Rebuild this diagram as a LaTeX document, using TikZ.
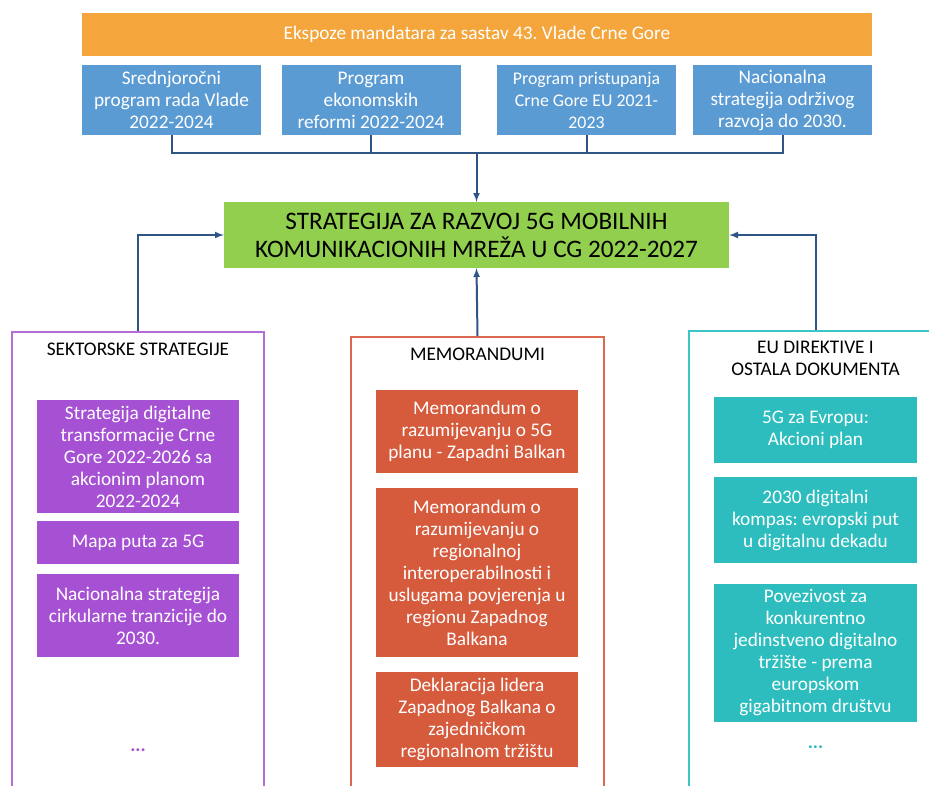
\documentclass[tikz,border=0pt]{standalone}
\usepackage{fontspec}
\setmainfont{Carlito}
\frenchspacing
\usetikzlibrary{calc}
\definecolor{barorange}{HTML}{F4A63C}
\definecolor{boxblue}{HTML}{5B9BD3}
\definecolor{stratgreen}{HTML}{92CF4F}
\definecolor{sekpurple}{HTML}{A650D4}
\definecolor{sekframe}{HTML}{B36CD8}
\definecolor{memored}{HTML}{D65A3C}
\definecolor{memoframe}{HTML}{D9694F}
\definecolor{euteal}{HTML}{2DBDBE}
\definecolor{euframe}{HTML}{3DC6C8}
\definecolor{arrowblue}{HTML}{2F5584}
\tikzset{>=latex,
	topbox/.style={rectangle, fill=boxblue, text=white, align=center, inner sep=0pt, minimum width=179, minimum height=70, font=\fontsize{19.3}{22}\selectfont},
	colframe/.style={rectangle, draw=#1, line width=1.5pt, inner sep=0pt, minimum height=480, anchor=north},
	coltitle/.style={align=center, text=black, font=\fontsize{19.3}{22}\selectfont},
	docbox/.style={rectangle, fill=#1, text=white, align=center, inner sep=0pt, minimum width=203, font=\fontsize{19.3}{22}\selectfont},
	link/.style={draw=arrowblue, line width=2pt}
}

\begin{document}
\begin{tikzpicture}[x=1pt,y=-1pt]
	\useasboundingbox (0,0) rectangle (929,785);
	\clip (0,0) rectangle (929,785);
			\node[rectangle, fill=barorange, text=white, minimum width=790, minimum height=43, inner sep=0pt, font=\fontsize{19.3}{22}\selectfont] (ekspoze) at (477,34.5) {Ekspoze mandatara za sastav 43. Vlade Crne Gore};
			
			\node[topbox] (srednjorocni) at (171.5,100) {Srednjoročni \\ program rada Vlade \\ 2022-2024};
			\node[topbox] (ekonomski) at (371,100) {Program \\ ekonomskih \\ reformi 2022-2024};
			\node[topbox, font=\fontsize{17.8}{22}\selectfont] (pristupanje) at (586.5,100) {Program pristupanja \\ Crne Gore EU 2021- \\ 2023};
			\node[topbox] (odrzivi) at (782.5,100) {Nacionalna \\ strategija održivog \\ razvoja do 2030.};
			
			\node[rectangle, fill=stratgreen, text=black, align=center, minimum width=505, minimum height=66, inner sep=0pt, font=\fontsize{25.2}{28}\selectfont] (strategija) at (476.5,235) {STRATEGIJA ZA RAZVOJ 5G MOBILNIH \\ KOMUNIKACIONIH MREŽA U CG 2022-2027};
			
			\coordinate (spoj) at (476.5,153);
            \draw [link] (srednjorocni.south) |- (spoj);
            \draw [link] (ekonomski.south) |- (spoj);
            \draw [link] (pristupanje.south) |- (spoj);
            \draw [link] (odrzivi.south) |- (spoj);
            \draw [link,->] (spoj) -- (strategija.north);
            
            \node[colframe=sekframe, minimum width=252] (sektorske) at (138,331) {};
            \node[coltitle] (sektorsketitle) at (138,349) {SEKTORSKE STRATEGIJE};
            \node[docbox=sekpurple, minimum width=202, minimum height=113] (digitalna) at (138,456.5) {Strategija digitalne \\ transformacije Crne \\ Gore 2022-2026 sa \\ akcionim planom \\ 2022-2024};
            \node[docbox=sekpurple, minimum width=202, minimum height=43] (mapa) at (138,542.5) {Mapa puta za 5G};
            \node[docbox=sekpurple, minimum width=202, minimum height=83] (cirkularna) at (138,615.5) {Nacionalna strategija \\ cirkularne tranzicije do \\ 2030.};
            \node[text=sekpurple, font=\fontsize{19.3}{22}\bfseries] (sektorskedots) at (138,750) {...};
            \draw [link,->] (sektorske.north) |- (strategija.west);
            
            \node[colframe=memoframe, minimum width=253] (memorandumi) at (477.5,336) {};
            \node[coltitle] (memorandumititle) at (477.5,354) {MEMORANDUMI};
            \node[docbox=memored, minimum width=202, minimum height=83] (memoa) at (477,431) {Memorandum o \\ razumijevanju o 5G \\ planu - Zapadni Balkan};
            \node[docbox=memored, minimum width=202, minimum height=169] (memob) at (477,572.5) {Memorandum o \\ razumijevanju o \\ regionalnoj \\ interoperabilnosti i \\ uslugama povjerenja u \\ regionu Zapadnog \\ Balkana};
            \node[docbox=memored, minimum width=202, minimum height=95] (deklaracija) at (477,719.5) {Deklaracija lidera \\ Zapadnog Balkana o \\ zajedničkom \\ regionalnom tržištu};
            \draw [link,->] (memorandumi.north) -- (strategija.south);
            
            \node[colframe=euframe, minimum width=254] (direktive) at (816,330) {};
            \node[coltitle] (direktivetitle) at (815.5,358) {EU DIREKTIVE I \\ OSTALA DOKUMENTA};
            \node[docbox=euteal, minimum height=66] (evropa) at (815.5,430) {5G za Evropu: \\ Akcioni plan};
            \node[docbox=euteal, minimum height=86] (kompas) at (815.5,520) {2030 digitalni \\ kompas: evropski put \\ u digitalnu dekadu};
            \node[docbox=euteal, minimum height=138] (povezivost) at (815.5,653) {Povezivost za \\ konkurentno \\ jedinstveno digitalno \\ tržište - prema \\ europskom \\ gigabitnom društvu};
            \node[text=euteal, font=\fontsize{19.3}{22}\bfseries] (direktivedots) at (815.5,747) {...};
            \draw [link,->] (direktive.north) |- (strategija.east);
		\end{tikzpicture}
\end{document}
